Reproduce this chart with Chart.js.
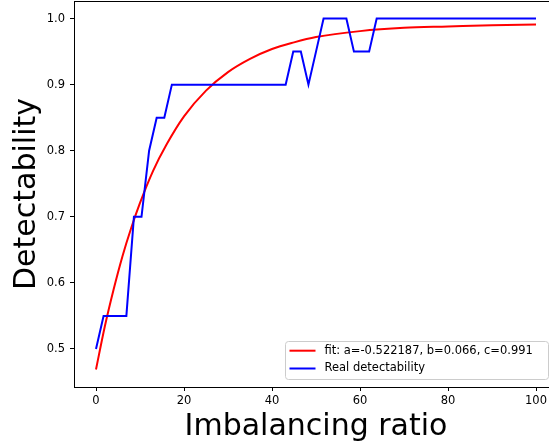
<!DOCTYPE html>
<html>
<head>
<meta charset="utf-8">
<script src="https://cdn.jsdelivr.net/npm/chart.js@4"></script>
<style>
  html, body { margin: 0; padding: 0; background: #fff; overflow: hidden; }
  #wrap { width: 549px; height: 446px; }
</style>
</head>
<body>
<div id="wrap"><canvas id="fitChart"></canvas></div>
<script>
// measured detectability, one value per imbalancing ratio step
const ratioX = [0, 1.72, 3.45, 5.17, 6.90, 8.62, 10.34, 12.07, 13.79, 15.52,
  17.24, 18.97, 20.69, 22.41, 24.14, 25.86, 27.59, 29.31, 31.03, 32.76,
  34.48, 36.21, 37.93, 39.66, 41.38, 43.10, 44.83, 46.55, 48.28, 50.00,
  51.72, 53.45, 55.17, 56.90, 58.62, 60.34, 62.07, 63.79, 65.52, 67.24,
  68.97, 70.69, 72.41, 74.14, 75.86, 77.59, 79.31, 81.03, 82.76, 84.48,
  86.21, 87.93, 89.66, 91.38, 93.10, 94.83, 96.55, 98.28, 100];
const realDet = [0.50, 0.55, 0.55, 0.55, 0.55, 0.70, 0.70, 0.80, 0.85, 0.85,
  0.90, 0.90, 0.90, 0.90, 0.90, 0.90, 0.90, 0.90, 0.90, 0.90,
  0.90, 0.90, 0.90, 0.90, 0.90, 0.90, 0.95, 0.95, 0.90, 0.95,
  1.00, 1.00, 1.00, 1.00, 0.95, 0.95, 0.95, 1.00, 1.00, 1.00,
  1.00, 1.00, 1.00, 1.00, 1.00, 1.00, 1.00, 1.00, 1.00, 1.00,
  1.00, 1.00, 1.00, 1.00, 1.00, 1.00, 1.00, 1.00, 1.00];

// fitted curve
const fitX = [0, 2, 4, 6, 8, 10, 13, 16, 20, 25, 30, 35, 40, 45, 50, 60, 70, 80, 90, 100];
const fitY = [0.469, 0.534, 0.590, 0.640, 0.683, 0.721, 0.770, 0.809, 0.852, 0.891,
  0.919, 0.939, 0.954, 0.964, 0.972, 0.981, 0.986, 0.988, 0.990, 0.991];

const xTicks = [0, 20, 40, 60, 80, 100];
const yTicks = [0.5, 0.6, 0.7, 0.8, 0.9, 1.0];
const legendLabels = ['fit: a=-0.522187, b=0.066, c=0.991', 'Real detectability'];
const xTitle = 'Imbalancing ratio';

const FONT = 'DejaVu Sans';

const frame = {
  id: 'frame',
  afterDraw(chart) {
    const { ctx, chartArea: a } = chart;
    ctx.save();
    // top spine only; the right spine sits past the edge of the picture
    ctx.strokeStyle = '#000';
    ctx.lineWidth = 1;
    ctx.beginPath();
    ctx.moveTo(a.left, a.top + 0.5);
    ctx.lineTo(chart.width, a.top + 0.5);
    ctx.stroke();

    // x title centred on the full axes box (which is wider than the picture)
    ctx.fillStyle = '#000';
    ctx.font = '30px "' + FONT + '"';
    ctx.textAlign = 'center';
    ctx.textBaseline = 'alphabetic';
    ctx.fillText(xTitle, 316, 435);

    // legend box, lower right
    const bx = 285.5, by = 341.5, bw = 263, bh = 38;
    ctx.fillStyle = 'rgba(255,255,255,0.8)';
    ctx.strokeStyle = '#cccccc';
    ctx.beginPath();
    ctx.roundRect(bx, by, bw, bh, 3);
    ctx.fill();
    ctx.stroke();
    const colors = ['#ff0000', '#0000ff'];
    const rows = [350.7, 368.5];
    ctx.font = '11.5px "' + FONT + '"';
    ctx.textBaseline = 'middle';
    ctx.textAlign = 'left';
    legendLabels.forEach((t, i) => {
      ctx.strokeStyle = colors[i];
      ctx.lineWidth = 2;
      ctx.beginPath();
      ctx.moveTo(289.5, rows[i]);
      ctx.lineTo(315.5, rows[i]);
      ctx.stroke();
      ctx.fillStyle = '#000';
      ctx.fillText(t, 324.5, rows[i]);
    });
    ctx.restore();
  }
};

new Chart(document.getElementById('fitChart'), {
  type: 'line',
  data: {
    datasets: [{
      label: legendLabels[1],
      data: ratioX.map((x, i) => ({ x, y: realDet[i] })),
      borderColor: '#0000ff',
      borderWidth: 2,
      pointRadius: 0,
      tension: 0,
      order: 1
    }, {
      label: legendLabels[0],
      data: fitX.map((x, i) => ({ x, y: fitY[i] })),
      borderColor: '#ff0000',
      borderWidth: 2,
      pointRadius: 0,
      cubicInterpolationMode: 'monotone',
      order: 2
    }]
  },
  options: {
    responsive: true,
    maintainAspectRatio: false,
    animation: false,
    layout: { padding: { top: 1, left: 0, right: 0, bottom: 0 } },
    scales: {
      x: {
        type: 'linear',
        min: -5,
        max: 102.95,
        afterBuildTicks: s => { s.ticks = xTicks.map(v => ({ value: v })); },
        afterFit: s => { s.height = 59; s.paddingLeft = 0; s.paddingRight = 0; },
        grid: { drawOnChartArea: false, drawTicks: true, tickLength: 4, color: '#000' },
        border: { display: true, color: '#000', width: 1 },
        ticks: { color: '#000', padding: 3, maxRotation: 0, font: { family: FONT, size: 11.5 } },
        title: { display: false }
      },
      y: {
        type: 'linear',
        min: 0.4424,
        max: 1.0266,
        afterBuildTicks: s => { s.ticks = yTicks.map(v => ({ value: v })); },
        afterFit: s => { s.width = 74; s.paddingTop = 0; s.paddingBottom = 0; },
        grid: { drawOnChartArea: false, drawTicks: true, tickLength: 4, color: '#000' },
        border: { display: true, color: '#000', width: 1 },
        ticks: {
          color: '#000',
          padding: 5,
          font: { family: FONT, size: 11.5 },
          callback: v => v.toFixed(1)
        },
        title: {
          display: true,
          text: 'Detectability',
          color: '#000',
          font: { family: FONT, size: 30 },
          padding: { top: 9, bottom: 0 }
        }
      }
    },
    plugins: {
      legend: { display: false },
      tooltip: { enabled: false }
    }
  },
  plugins: [frame]
});
</script>
</body>
</html>
